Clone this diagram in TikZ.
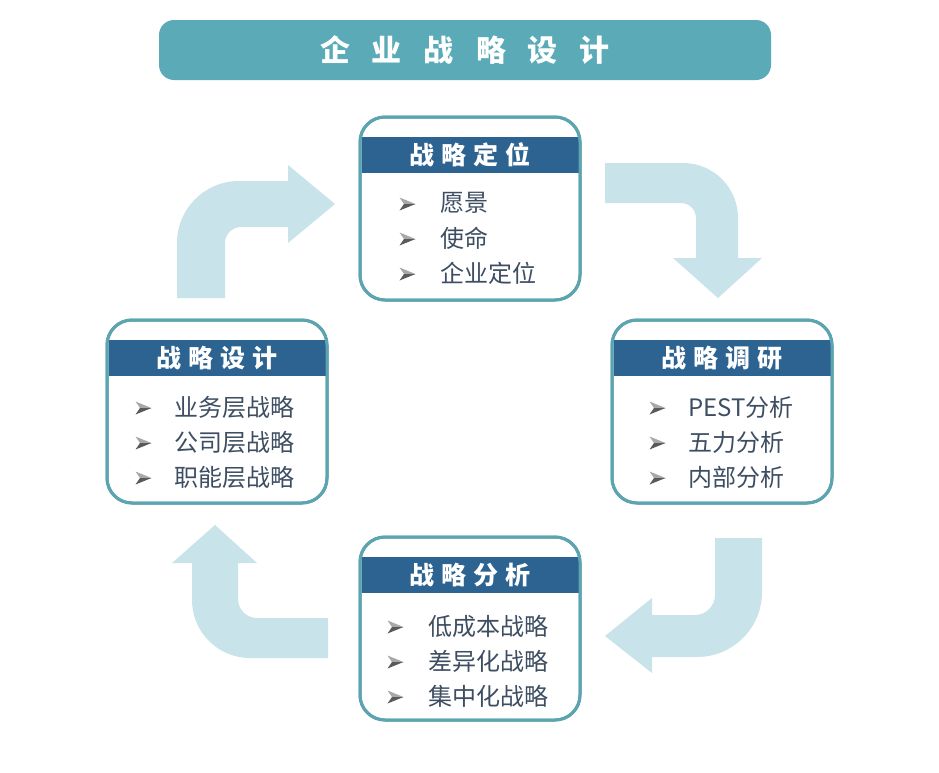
\documentclass[tikz,border=0pt]{standalone}
\usepackage{fontspec}
\setmainfont{Noto Sans CJK SC}
\definecolor{titlebg}{HTML}{5AAAB8}
\definecolor{boxline}{HTML}{5BA4B0}
\definecolor{headbg}{HTML}{2D6391}
\definecolor{arrowc}{HTML}{C8E3E9}
\definecolor{itemc}{HTML}{3E4E62}
\definecolor{bullight}{HTML}{A8A8A8}
\definecolor{buldark}{HTML}{5A5A5A}
\tikzset{
  titlebar/.style={fill=titlebg, rounded corners=15pt, minimum width=612pt, minimum height=60pt,
    inner sep=0pt, text=white, font=\bfseries\fontsize{30}{30}\selectfont},
  stratbox/.style={draw=boxline, line width=3pt, rounded corners=25pt, fill=white,
    minimum width=220pt, minimum height=183pt, inner sep=0pt},
  headband/.style={fill=headbg, minimum width=217pt, minimum height=36pt, inner sep=0pt,
    text=white, font=\bfseries\fontsize{25}{25}\selectfont},
  item/.style={anchor=west, inner sep=0pt, text=itemc, font=\fontsize{24}{24}\selectfont},
  bigarrow/.style={fill=arrowc},
  bul/.pic={
    \fill[bullight] (-7.5,-6.5) -- (8.5,0) -- (-3,0) -- cycle;
    \fill[buldark] (-7.5,6.5) -- (8.5,0) -- (-3,0) -- cycle;
  }
}
\newcommand{\hsp}{\hspace{7pt}}
\newcommand{\tsp}{\hspace{22pt}}
\begin{document}
\begin{tikzpicture}[x=1pt,y=-1pt]
\useasboundingbox (0,0) rectangle (939,772);
\fill[white] (0,0) rectangle (939,772);

% title
\node[titlebar] (title) at (465,50) {企\tsp 业\tsp 战\tsp 略\tsp 设\tsp 计};

% arrows
% top-right
\fill[bigarrow] (605,163) -- (683,163) .. controls (713.4,163) and (738,187.6) .. (738,218)
  -- (738,258) -- (762,258) -- (718,298) -- (673,258) -- (696,258) -- (696,218)
  .. controls (696,209.7) and (689.3,203) .. (681,203) -- (605,203) -- cycle;
% top-left
\fill[bigarrow] (177,298) -- (177,243) .. controls (177,208.8) and (204.8,181) .. (239,181)
  -- (288,181) -- (288,165) -- (335,204) -- (288,243) -- (288,227) -- (241,227)
  .. controls (232.2,227) and (225,234.2) .. (225,243) -- (225,298) -- cycle;
% bottom-right
\fill[bigarrow] (762,538) -- (762,592) .. controls (762,627.9) and (732.9,657) .. (697,657)
  -- (652,657) -- (652,673) -- (605,636) -- (652,598) -- (652,615) -- (695,615)
  .. controls (706,615) and (715,606) .. (715,595) -- (715,538) -- cycle;
% bottom-left
\fill[bigarrow] (328,658) -- (250,658) .. controls (218,658) and (192,632) .. (192,600)
  -- (192,563) -- (172,563) -- (215,525) -- (257,563) -- (238,563) -- (238,599)
  .. controls (238,609.5) and (246.5,618) .. (257,618) -- (328,618) -- cycle;

% top box
\node[stratbox] (b1) at (470,208.5) {};
\node[headband] (h1) at (470,155) {战\hsp 略\hsp 定\hsp 位};
\draw[draw=boxline, line width=3pt, rounded corners=25pt] (360,117) rectangle (580,300);
\pic at (407,204) {bul}; \node[item] (t1a) at (440,203) {愿景};
\pic at (407,239) {bul}; \node[item] (t1b) at (440,238) {使命};
\pic at (407,274) {bul}; \node[item] (t1c) at (440,273) {企业定位};

% right box
\node[stratbox] (b2) at (722,411.5) {};
\node[headband] (h2) at (722,358) {战\hsp 略\hsp 调\hsp 研};
\draw[draw=boxline, line width=3pt, rounded corners=25pt] (612,320) rectangle (832,503);
\pic at (657,408) {bul}; \node[item] (t2a) at (688,407) {PEST分析};
\pic at (657,443) {bul}; \node[item] (t2b) at (688,442) {五力分析};
\pic at (657,478) {bul}; \node[item] (t2c) at (688,477) {内部分析};

% left box
\node[stratbox] (b3) at (217,411.5) {};
\node[headband] (h3) at (217,358) {战\hsp 略\hsp 设\hsp 计};
\draw[draw=boxline, line width=3pt, rounded corners=25pt] (107,320) rectangle (327,503);
\pic at (143,408) {bul}; \node[item] (t3a) at (174,407) {业务层战略};
\pic at (143,443) {bul}; \node[item] (t3b) at (174,442) {公司层战略};
\pic at (143,478) {bul}; \node[item] (t3c) at (174,477) {职能层战略};

% bottom box
\node[stratbox] (b4) at (470,628.5) {};
\node[headband] (h4) at (470,575) {战\hsp 略\hsp 分\hsp 析};
\draw[draw=boxline, line width=3pt, rounded corners=25pt] (360,537) rectangle (580,720);
\pic at (395,627) {bul}; \node[item] (t4a) at (428,626) {低成本战略};
\pic at (395,662) {bul}; \node[item] (t4b) at (428,661) {差异化战略};
\pic at (395,697) {bul}; \node[item] (t4c) at (428,696) {集中化战略};
\end{tikzpicture}
\end{document}
